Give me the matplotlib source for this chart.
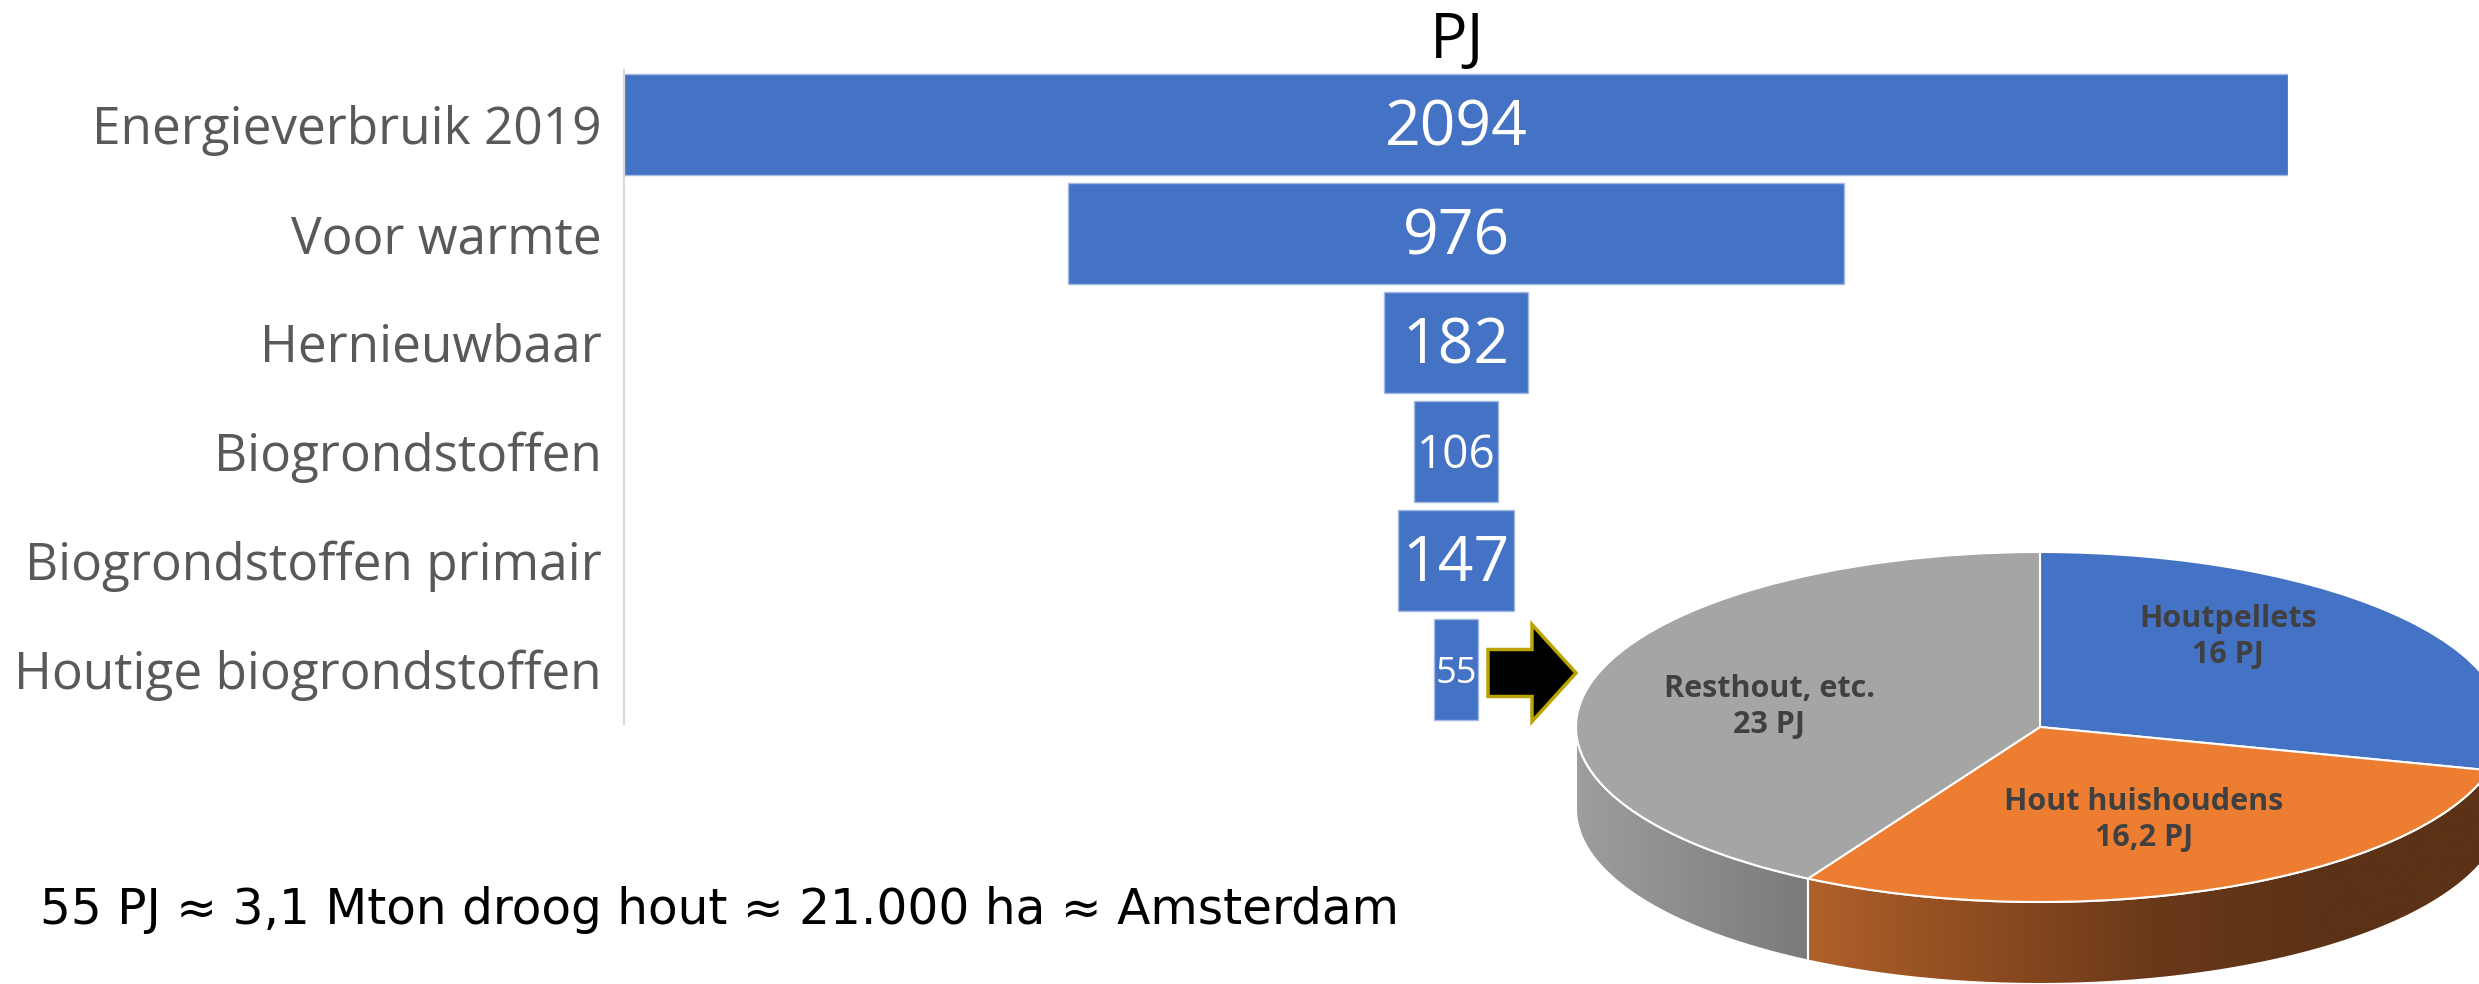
import numpy as np
import matplotlib
matplotlib.use("Agg")
import matplotlib.pyplot as plt
from matplotlib.patches import Polygon, FancyArrow
from matplotlib.colors import LinearSegmentedColormap

# ---------------- data ----------------
categories = ["Energieverbruik 2019", "Voor warmte", "Hernieuwbaar",
              "Biogrondstoffen", "Biogrondstoffen primair", "Houtige biogrondstoffen"]
values_pj = [2094, 976, 182, 106, 147, 55]
value_labels = ["2094", "976", "182", "106", "147", "55"]

pie_names = ["Houtpellets", "Hout huishoudens", "Resthout, etc."]
pie_values = [16, 16.2, 23]
pie_value_text = ["16 PJ", "16,2 PJ", "23 PJ"]

unit_label = "PJ"
footnote = "55 PJ \u2248 3,1 Mton droog hout \u2248 21.000 ha \u2248 Amsterdam"

# ---------------- style ----------------
BAR_COLOR = "#4472C4"
pie_colors = ["#4472C4", "#ED7D31", "#A5A5A5"]
side_grad = [["#3A62A8", "#2F5090"],
             ["#B0612A", "#8E4C20", "#6A391A", "#5C3216", "#5C3216"],
             ["#9E9E9E", "#7A7A7A"]]
value_sizes = [45, 45, 45, 33, 45, 26]

W, H = 2479, 984
fig = plt.figure(figsize=(W / 100, H / 100), dpi=100)


def px_axes(x0, y0, x1, y1):
    return fig.add_axes([x0 / W, 1 - y1 / H, (x1 - x0) / W, (y1 - y0) / H])


# overlay in pixel coordinates (drawn on top)
ov = fig.add_axes([0, 0, 1, 1])
ov.set_xlim(0, W)
ov.set_ylim(H, 0)
ov.axis("off")
ov.set_zorder(10)

# ---------------- funnel bars ----------------
ax = px_axes(624, 70, 2288, 724)
n = len(categories)
ypos = np.arange(n)
vmax = max(values_pj)
lefts = [(vmax - v) / 2 for v in values_pj]
ax.barh(ypos, values_pj, left=lefts, height=0.93, color=BAR_COLOR,
        edgecolor="#A3BBE3", linewidth=1)
ax.set_xlim(0, vmax)
ax.set_ylim(n - 0.5, -0.5)
ax.set_yticks(ypos)
ax.set_yticklabels(categories, fontsize=37, color="#595959", family="Open Sans")
ax.tick_params(axis="y", length=0, pad=16)
ax.set_xticks([])
for s in ["top", "right", "bottom"]:
    ax.spines[s].set_visible(False)
ax.spines["left"].set_color("#D9D9D9")
ax.spines["left"].set_linewidth(1.5)
ax.patch.set_alpha(0)
for yi, (l, v, t, fs) in enumerate(zip(lefts, values_pj, value_labels, value_sizes)):
    ax.text(l + v / 2, yi + 0.04, t, ha="center", va="center", color="white",
            fontsize=fs, family="Open Sans")

ov.text(1457, 58, unit_label, ha="center", va="baseline", fontsize=45,
        family="Open Sans", color="black")

# arrow
ov.add_patch(FancyArrow(1488, 673, 88, 0, width=47, head_width=97, head_length=44,
                        length_includes_head=True, facecolor="black",
                        edgecolor="#BBA300", linewidth=2.5))

# footnote
ov.text(40, 924, footnote, ha="left", va="baseline", fontsize=35,
        family="DejaVu Sans", color="black")

# ---------------- 3D-looking pie ----------------
b_px, a_px, depth_px = 175, 464, 82
cx, cy = 2040, 727
pax = px_axes(cx - a_px, cy - b_px, cx + a_px, cy + b_px + depth_px)
d = depth_px / b_px

total = sum(pie_values)
cum = np.concatenate([[0], np.cumsum(pie_values)])
for i in range(len(pie_values)):
    th_hi = 90 - 360 * cum[i] / total
    th_lo = 90 - 360 * cum[i + 1] / total
    lo, hi = max(th_lo, -180), min(th_hi, 0)
    if hi <= lo:
        continue
    t = np.radians(np.linspace(lo, hi, 200))
    top = np.column_stack([np.cos(t), np.sin(t)])
    bot = np.column_stack([np.cos(t), np.sin(t) - d])[::-1]
    poly = Polygon(np.vstack([top, bot]), closed=True, facecolor="none",
                   edgecolor="white", linewidth=1.5, zorder=2)
    pax.add_patch(poly)
    x0, x1 = np.cos(t).min(), np.cos(t).max()
    cmap = LinearSegmentedColormap.from_list("g%d" % i, side_grad[i])
    grad = np.linspace(0, 1, 256).reshape(1, -1)
    im = pax.imshow(grad, cmap=cmap, extent=(x0, x1, -1 - d, 1), aspect="auto",
                    zorder=1, interpolation="bilinear")
    im.set_clip_path(poly)

pax.pie(pie_values, colors=pie_colors, startangle=90, counterclock=False, radius=1,
        wedgeprops=dict(edgecolor="white", linewidth=1.5, zorder=3))
pax.set_aspect("auto")
pax.set_xlim(-1, 1)
pax.set_ylim(-1 - d, 1)
pax.axis("off")

label_px = [(2228, 637), (2144, 820), (1769, 707)]
for (px, py), nm, vt in zip(label_px, pie_names, pie_value_text):
    ov.text(px, py, nm + "\n" + vt, ha="center", va="center", fontsize=22,
            fontweight="bold", color="#404040", family="Open Sans",
            linespacing=1.3, zorder=5)

fig.savefig("out.png", dpi=100)
